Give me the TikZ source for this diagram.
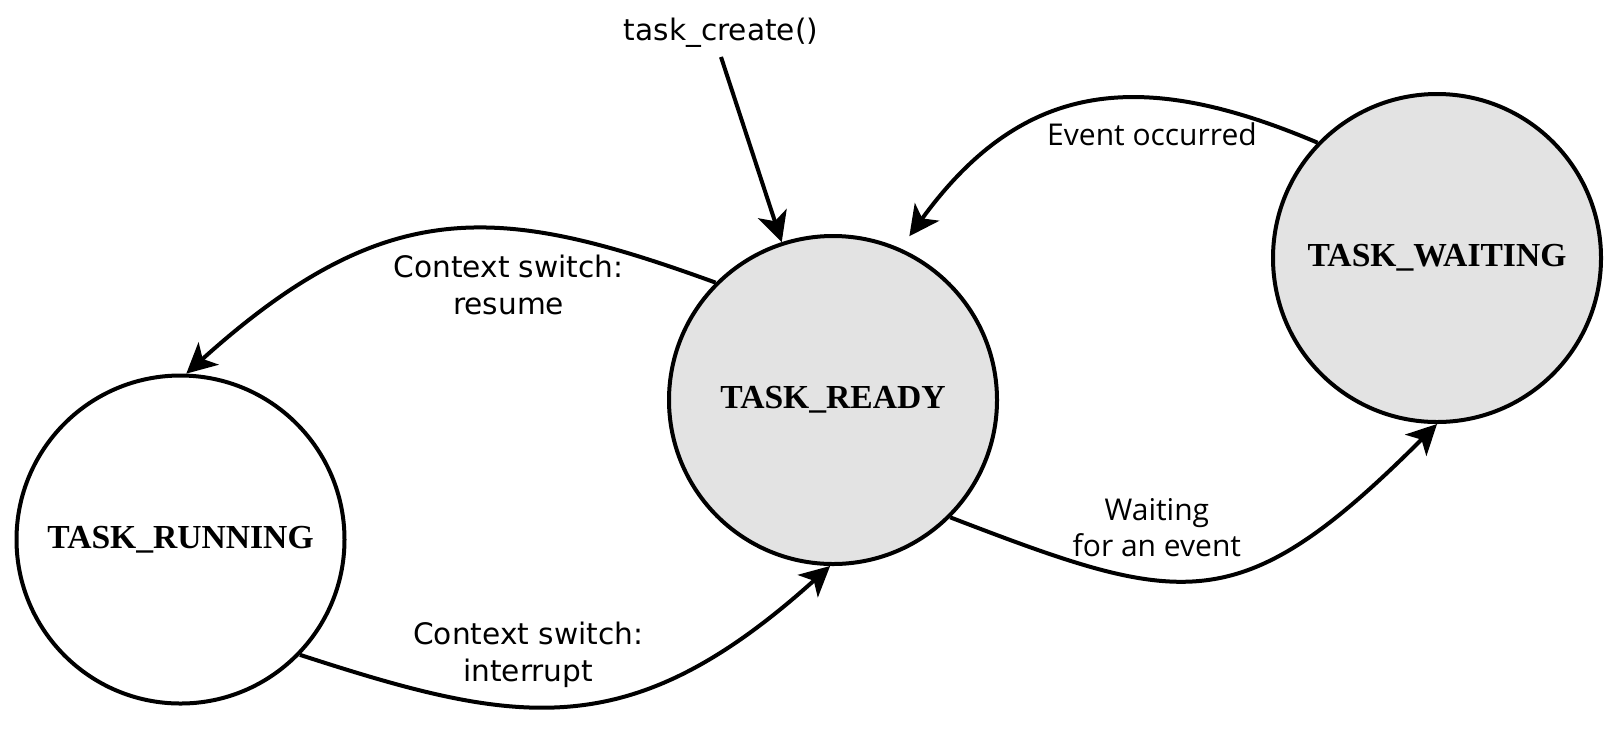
\documentclass[tikz,border=0pt]{standalone}
\usepackage{fontspec}
\usepackage{tikz}
\usetikzlibrary{arrows.meta}
\newfontfamily\statefont{Liberation Serif}
\newfontfamily\labelfont{DejaVu Sans}
\newfontfamily\eventfont{Open Sans}
\definecolor{statefill}{gray}{0.89}

\begin{document}
\begin{tikzpicture}[x=0.5pt, y=0.5pt,
    state/.style={circle, draw, line width=2pt, minimum size=164pt, inner sep=0pt,
        font=\statefont\bfseries\fontsize{16.8}{20}\selectfont},
    trans/.style={line width=2pt, -{Stealth[length=15pt, width=15pt, inset=4pt]}},
    lbl/.style={inner sep=0pt, align=center, font=\labelfont\fontsize{14.8}{18.5}\selectfont},
    evlbl/.style={inner sep=0pt, align=center, font=\eventfont\fontsize{15}{18}\selectfont}]
\useasboundingbox (0,0) rectangle (1620,-730);
\node[state] (running) at (180.5,-539.5) {TASK\_RUNNING};
\node[state, fill=statefill] (ready) at (833,-400) {TASK\_READY};
\node[state, fill=statefill] (waiting) at (1437,-258) {TASK\_WAITING};
\node[lbl, inner sep=4.8pt, anchor=base] (create) at (721,-40) {task\_create()};
\draw[trans] (create.south) -- (ready.108);
\draw[trans] (ready.135) to[out=160, in=42, out distance=115pt, in distance=135pt]
    node[lbl, pos=0.37, below=12pt] (resume) {Context switch:\\resume} (running.88);
\draw[trans] (running.-44) to[out=-18, in=-138, out distance=115pt, in distance=135pt]
    node[lbl, pos=0.41, above=8.5pt] (interrupt) {Context switch:\\interrupt} (ready.-91);
\draw[trans] (ready.-45) to[out=-21, in=-135, out distance=125pt, in distance=140pt]
    node[evlbl, pos=0.38, above=10.5pt] (waitfor) {Waiting\\for an event} (waiting.south);
\draw[trans, shorten >=7.5pt] (waiting.136) to[out=157, in=54, out distance=95pt, in distance=105pt]
    node[evlbl, pos=0.35, below=10.8pt] (occurred) {Event occurred} (ready.66);
\end{tikzpicture}
\end{document}
